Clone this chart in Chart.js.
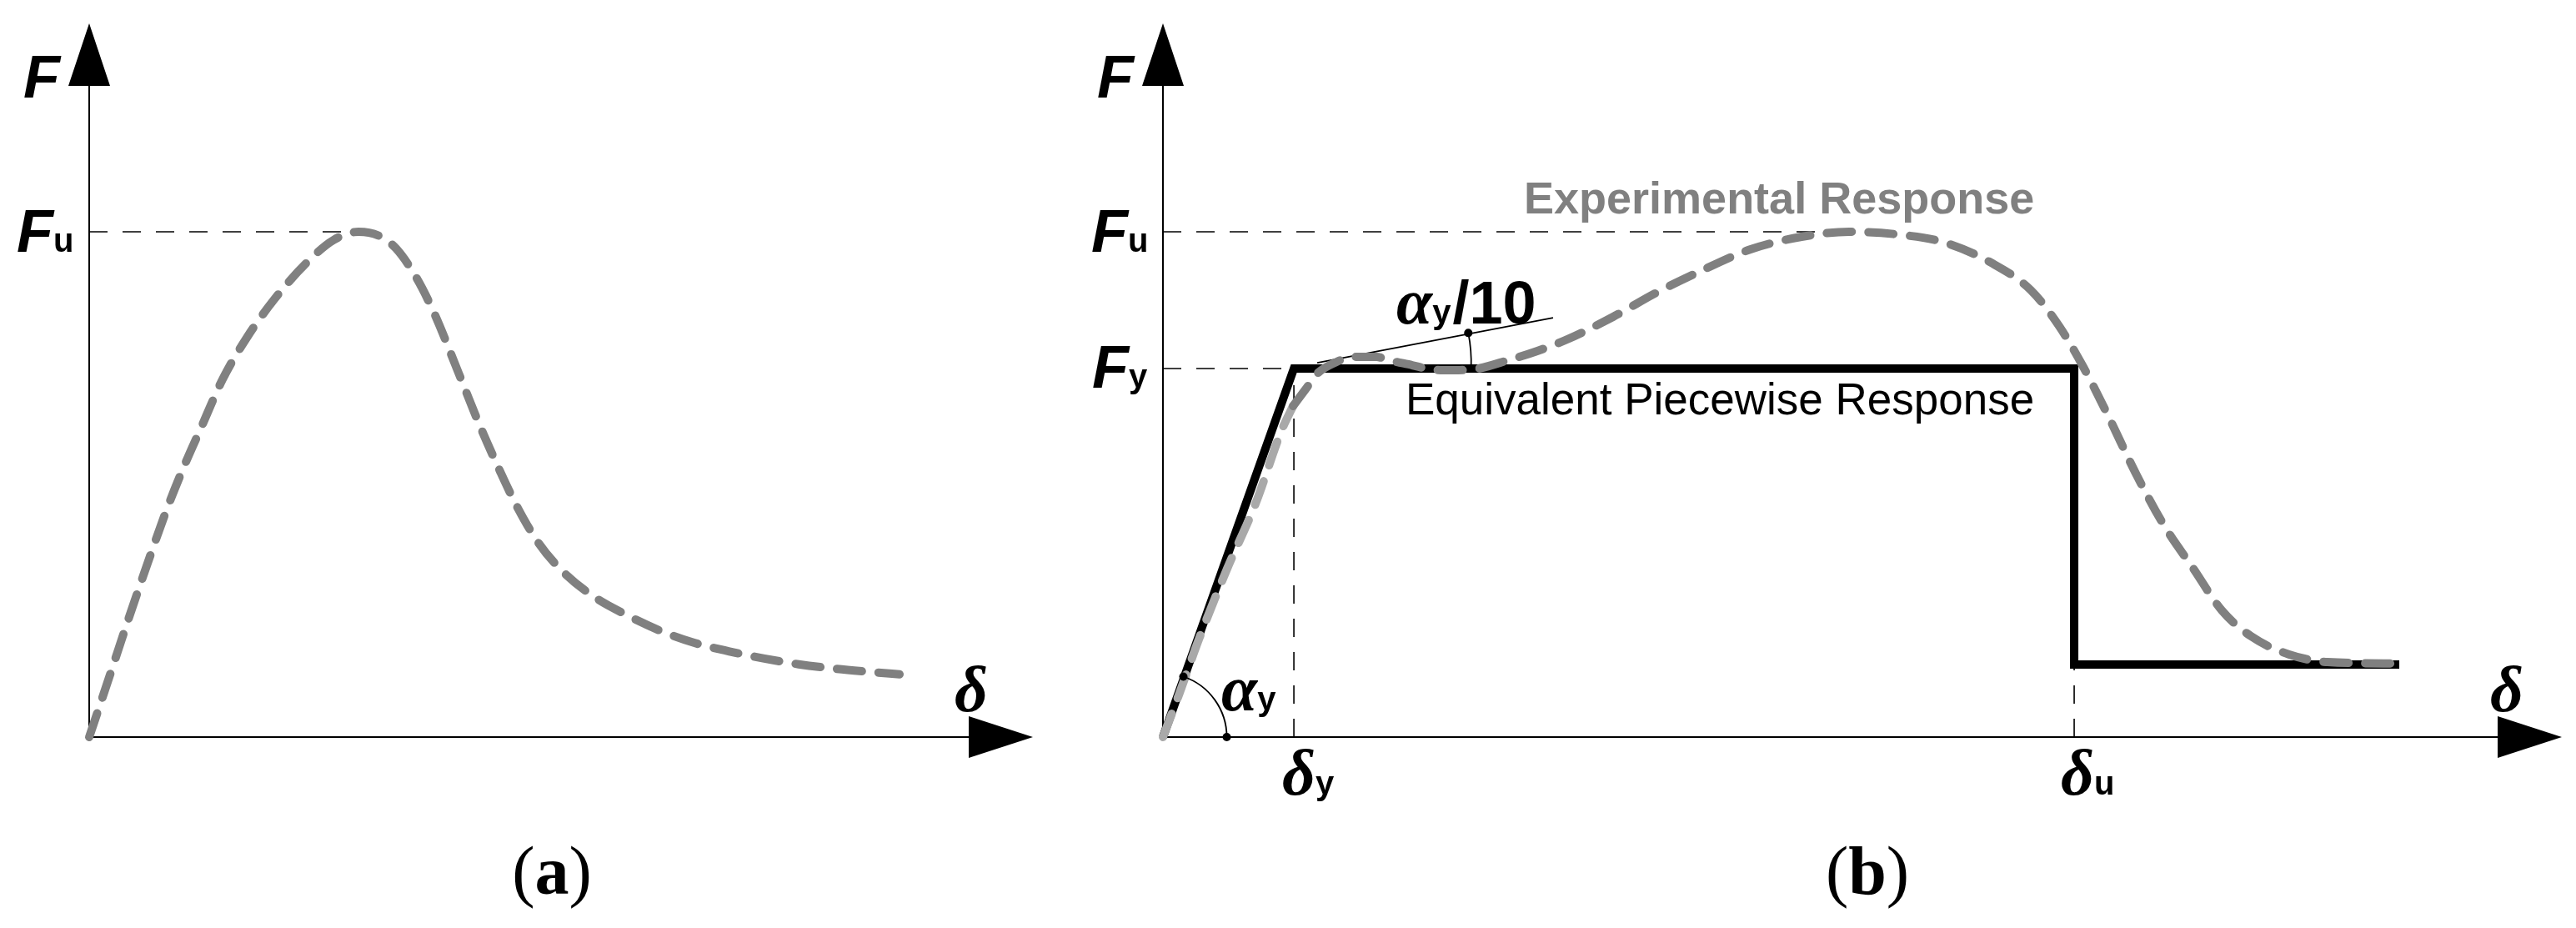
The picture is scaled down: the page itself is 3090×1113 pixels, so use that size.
<!DOCTYPE html>
<html><head><meta charset="utf-8">
<script src="https://cdn.jsdelivr.net/npm/chart.js@4.4.1/dist/chart.umd.min.js"></script>
<style>
html,body{margin:0;padding:0;background:#fff;}
#wrap{position:relative;width:3090px;height:1113px;overflow:hidden;background:#fff;}
canvas{position:absolute;top:0;}
#ca{left:0;width:1300px;height:1113px;}
#cb{left:1300px;width:1790px;height:1113px;}
</style></head><body>
<div id="wrap"><canvas id="ca" width="1300" height="1113"></canvas><canvas id="cb" width="1790" height="1113"></canvas></div>
<script>
// ---------- Panel (a): experimental response (normalised units, axis tip = 100) ----------
const curveA_x = [0,2.1,4.15,6.2,8.22,10.07,11.93,14.13,16.70,19.61,22.97,25.88,28.53,30.74,32.51,34.72,36.57,39.13,41.34,43.55,45.41,47.61,50.18,53.45,56.80,60.51,64.13,67.84,71.55,75.18,78.89,82.60,85.87];
const curveA_y = [0,8.3,16.5,24.4,31.9,38.0,43.57,50.12,55.96,61.33,66.36,69.63,70.79,70.21,68.46,64.25,59.35,51.05,43.8,37.2,32.1,27.2,23.2,19.7,17.2,14.9,13.2,12.0,11.0,10.2,9.6,9.15,8.8];
const FU_A = 70.79, PEAK_A = 28.53;

// ---------- Panel (b) ----------
// experimental response: initial (light) part and remaining part
const expL_x = [0,1.19,2.56,4.59,6.62,8.46,9.30];
const expL_y = [0,6.19,13.67,23.60,32.71,42.87,46.38];
const expD_x = [9.30,10.19,11.03,12.28,13.59,15.26,16.15,17.82,19.13,20.80,22.53,24.67,26.76,28.90,32.18,35.28,38.44,42.01,45.65,49.05,52.44,55.90,59.30,62.04,64.06,65.79,67.52,69.55,71.63,73.66,75.69,77.77,80.51,83.25,88.38];
const expD_y = [46.38,48.71,50.93,52.45,53.27,53.27,52.80,52.10,51.52,51.40,51.64,52.80,54.09,55.72,58.88,62.27,65.30,68.34,70.09,70.79,70.44,69.28,66.36,62.62,57.59,51.87,45.21,36.92,29.44,23.60,17.76,14.14,11.57,10.51,10.30];
// equivalent piecewise response
const pw_x = [0,9.36,65.14,65.14,88.38];
const pw_y = [0,51.64,51.64,10.16,10.16];
const FU_B = 70.79, FY_B = 51.64, DY_B = 9.36, DU_B = 65.14, PEAK_B = 49.05, RES_B = 10.16;
// tangent with slope alpha_y/10
const tan_x = [11.03,27.89];
const tan_y = [52.45,58.76];
// angle marks: [centre, start point, end point]
const angY_x = [0,1.49,4.47];
const angY_y = [0,8.64,0];
const ang10_x = [11.03,21.63,22.23];
const ang10_y = [52.45,56.54,51.64];

const zip = (xs, ys) => xs.map((v, i) => ({x: v, y: ys[i]}));

const GRAY = '#808080', LIGHT = '#a9a9a9';
const SANS_BI = 'italic bold 72px "Liberation Sans", Arial, sans-serif';
const SUB = 'bold 40px "Liberation Sans", Arial, sans-serif';
const GREEK = 'italic bold 78px "Liberation Serif", "Times New Roman", serif';
const SERIF = '82px "Liberation Serif", "Times New Roman", serif';
const SERIF_B = 'bold 82px "Liberation Serif", "Times New Roman", serif';

function lineDs(data, color, width, dash, order, extra) {
  return Object.assign({
    data, borderColor: color, backgroundColor: color, borderWidth: width,
    borderDash: dash || [], pointRadius: 0, fill: false, tension: 0,
    clip: false, order: order, borderCapStyle: 'butt', borderJoinStyle: 'miter'
  }, extra || {});
}
function curveDs(data, color, order) {
  return lineDs(data, color, 10, [30, 20], order, {cubicInterpolationMode: 'monotone', borderCapStyle: 'round', borderJoinStyle: 'round'});
}
function axisDs() {
  return [
    lineDs([{x:0,y:0},{x:97,y:0}], '#000', 2, [], 5),
    lineDs([{x:0,y:0},{x:0,y:96}], '#000', 2, [], 5)
  ];
}
function guide(p) { return lineDs(p, '#000', 1.6, [22, 18], 4); }

function drawArrows(ctx, xs, ys) {
  const ox = xs.getPixelForValue(0), oy = ys.getPixelForValue(0);
  const tx = xs.getPixelForValue(100), ty = ys.getPixelForValue(100);
  ctx.save(); ctx.fillStyle = '#000';
  ctx.beginPath(); ctx.moveTo(tx, oy); ctx.lineTo(tx - 77, oy - 25); ctx.lineTo(tx - 77, oy + 25); ctx.closePath(); ctx.fill();
  ctx.beginPath(); ctx.moveTo(ox, ty); ctx.lineTo(ox - 25, ty + 75); ctx.lineTo(ox + 25, ty + 75); ctx.closePath(); ctx.fill();
  ctx.restore();
}
function sublabel(ctx, main, sub, x, y, mainFont, color, tail, tailFont) {
  ctx.save(); ctx.fillStyle = color || '#000'; ctx.textAlign = 'left'; ctx.textBaseline = 'alphabetic';
  ctx.font = mainFont; ctx.fillText(main, x, y);
  let cx = x + ctx.measureText(main).width;
  if (sub) { ctx.font = SUB; ctx.fillText(sub, cx, y); cx += ctx.measureText(sub).width; }
  if (tail) { ctx.font = tailFont; ctx.fillText(tail, cx + 2, y); }
  ctx.restore();
}
function caption(ctx, letter, cx, y) {
  ctx.save(); ctx.fillStyle = '#000'; ctx.textBaseline = 'alphabetic'; ctx.textAlign = 'left';
  ctx.font = SERIF; const wp = ctx.measureText('(').width, wq = ctx.measureText(')').width;
  ctx.font = SERIF_B; const wl = ctx.measureText(letter).width;
  let x = cx - (wp + wl + wq) / 2;
  ctx.font = SERIF; ctx.fillText('(', x, y); x += wp;
  ctx.font = SERIF_B; ctx.fillText(letter, x, y); x += wl;
  ctx.font = SERIF; ctx.fillText(')', x, y);
  ctx.restore();
}
function angleMark(ctx, xs, ys, ax, ay) {
  const c = {x: xs.getPixelForValue(ax[0]), y: ys.getPixelForValue(ay[0])};
  const p1 = {x: xs.getPixelForValue(ax[1]), y: ys.getPixelForValue(ay[1])};
  const p2 = {x: xs.getPixelForValue(ax[2]), y: ys.getPixelForValue(ay[2])};
  const r = (Math.hypot(p1.x - c.x, p1.y - c.y) + Math.hypot(p2.x - c.x, p2.y - c.y)) / 2;
  const a1 = Math.atan2(p1.y - c.y, p1.x - c.x), a2 = Math.atan2(p2.y - c.y, p2.x - c.x);
  ctx.save(); ctx.strokeStyle = '#000'; ctx.fillStyle = '#000'; ctx.lineWidth = 1.8;
  ctx.beginPath(); ctx.arc(c.x, c.y, r, a1, a2, a1 > a2); ctx.stroke();
  [a1, a2].forEach(a => { ctx.beginPath(); ctx.arc(c.x + r * Math.cos(a), c.y + r * Math.sin(a), 5, 0, Math.PI * 2); ctx.fill(); });
  ctx.restore();
}

function baseOptions(pad) {
  return {
    responsive: false, animation: false, devicePixelRatio: 1,
    layout: {padding: pad},
    plugins: {legend: {display: false}, tooltip: {enabled: false}, title: {display: false}},
    scales: {
      x: {type: 'linear', min: 0, max: 100, display: false},
      y: {type: 'linear', min: 0, max: 100, display: false}
    },
    elements: {point: {radius: 0}}
  };
}

// ---------- Chart (a) ----------
new Chart(document.getElementById('ca'), {
  type: 'line',
  data: {datasets: [
    curveDs(zip(curveA_x, curveA_y), GRAY, 0),
    guide([{x:0,y:FU_A},{x:PEAK_A,y:FU_A}]),
    ...axisDs()
  ]},
  options: baseOptions({left: 107, right: 61, top: 28, bottom: 229}),
  plugins: [{
    id: 'decorA',
    afterDatasetsDraw(chart) {
      const ctx = chart.ctx, xs = chart.scales.x, ys = chart.scales.y;
      const ox = xs.getPixelForValue(0), oy = ys.getPixelForValue(0), tx = xs.getPixelForValue(100), ty = ys.getPixelForValue(100);
      drawArrows(ctx, xs, ys);
      sublabel(ctx, 'F', '', ox - 79, ty + 89, SANS_BI);
      sublabel(ctx, 'F', 'u', ox - 87, ys.getPixelForValue(FU_A) + 24, SANS_BI);
      sublabel(ctx, 'δ', '', tx - 94, oy - 31, GREEK);
      caption(ctx, 'a', 662, 1072);
    }
  }]
});

// ---------- Chart (b) ----------
new Chart(document.getElementById('cb'), {
  type: 'line',
  data: {datasets: [
    curveDs(zip(expD_x, expD_y), GRAY, 0),
    curveDs(zip(expL_x, expL_y), LIGHT, 0),
    lineDs(zip(pw_x, pw_y), '#000', 10, [], 1),
    lineDs(zip(tan_x, tan_y), '#000', 1.8, [], 2),
    guide([{x:0,y:FU_B},{x:PEAK_B,y:FU_B}]),
    guide([{x:0,y:FY_B},{x:DY_B,y:FY_B}]),
    guide([{x:DY_B,y:0},{x:DY_B,y:FY_B}]),
    guide([{x:DU_B,y:0},{x:DU_B,y:RES_B}]),
    ...axisDs()
  ]},
  options: baseOptions({left: 95, right: 17, top: 28, bottom: 229}),
  plugins: [{
    id: 'decorB',
    afterDatasetsDraw(chart) {
      const ctx = chart.ctx, xs = chart.scales.x, ys = chart.scales.y;
      const ox = xs.getPixelForValue(0), oy = ys.getPixelForValue(0), tx = xs.getPixelForValue(100), ty = ys.getPixelForValue(100);
      const yFu = ys.getPixelForValue(FU_B), yFy = ys.getPixelForValue(FY_B);
      drawArrows(ctx, xs, ys);
      angleMark(ctx, xs, ys, angY_x, angY_y);
      angleMark(ctx, xs, ys, ang10_x, ang10_y);
      sublabel(ctx, 'F', '', ox - 79, ty + 89, SANS_BI);
      sublabel(ctx, 'F', 'u', ox - 86, yFu + 24, SANS_BI);
      sublabel(ctx, 'F', 'y', ox - 85, yFy + 23, SANS_BI);
      sublabel(ctx, 'Experimental Response', '', ox + 433, yFu - 22, 'bold 54px "Liberation Sans", Arial, sans-serif', GRAY);
      sublabel(ctx, 'Equivalent Piecewise Response', '', ox + 291, yFy + 55, '53px "Liberation Sans", Arial, sans-serif', '#000');
      sublabel(ctx, 'α', 'y', ox + 280, yFy - 54, GREEK, '#000', '/10', 'bold 72px "Liberation Sans", Arial, sans-serif');
      sublabel(ctx, 'α', 'y', ox + 70, oy - 32, GREEK);
      sublabel(ctx, 'δ', 'y', xs.getPixelForValue(DY_B) - 14, oy + 69, GREEK);
      sublabel(ctx, 'δ', 'u', xs.getPixelForValue(DU_B) - 16, oy + 69, GREEK);
      sublabel(ctx, 'δ', '', tx - 86, oy - 31, GREEK);
      caption(ctx, 'b', 940, 1072);
    }
  }]
});
</script>
</body></html>
